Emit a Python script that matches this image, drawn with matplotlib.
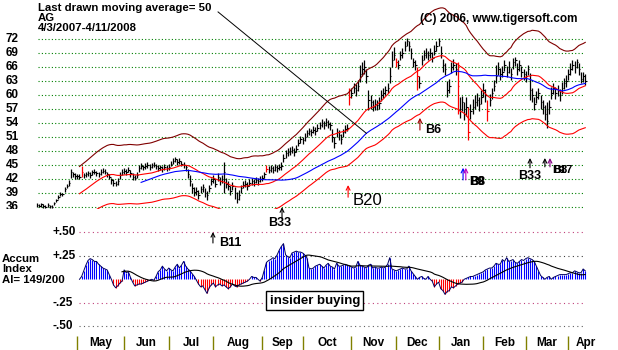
import numpy as np
import pandas as pd
import matplotlib
matplotlib.use('Agg')
import matplotlib.pyplot as plt

plt.rcParams['font.family'] = ['Liberation Sans', 'DejaVu Sans']

# daily bars AG 4/3/2007 - 4/11/2008, one row per month
closes = [
    36.5, 36.3, 36.6, 36.2, 36.0, 36.4, 36.2, 36.1, 36.8, 37.5, 38.2, 38.8, 38.7, 39.8, 40.5, 41.2, 43.5, 43.0, 42.6,
    42.6, 42.4, 43.5, 42.8, 43.0, 43.3, 42.9, 43.4, 43.6, 43.2, 43.0, 43.5, 43.8, 43.6, 43.0, 42.5, 41.8, 41.2, 41.0, 41.5, 42.8, 43.5,
    43.8, 43.5, 44.0, 43.2, 42.5, 42.3, 42.8, 44.3, 44.8, 44.5, 44.8, 45.0, 44.6, 44.9, 45.1, 44.7, 44.3, 44.5, 44.2, 44.6, 44.3,
    44.6, 45.3, 45.8, 46.2, 45.6, 45.9, 45.3, 45.0, 44.5, 43.0, 41.5, 40.0, 39.2, 39.5, 38.6, 39.8, 40.2, 39.0, 38.5, 40.0, 41.5,
    42.0, 41.0, 42.5, 41.5, 42.0, 43.5, 41.0, 40.5, 39.5, 40.5, 39.0, 37.8, 38.5, 40.0, 40.8, 41.0, 40.5, 41.2, 41.5, 41.3, 41.8, 41.5, 42.0,
    42.2, 43.0, 44.2, 44.0, 44.3, 44.0, 44.5, 44.3, 44.6, 44.8, 46.5, 47.5, 47.8, 48.0, 48.3, 47.8, 48.5, 49.8, 50.5,
    50.3, 51.0, 51.8, 52.2, 52.0, 52.6, 52.3, 53.0, 53.5, 54.0, 53.6, 54.2, 53.8, 53.5, 51.0, 49.8, 52.0, 51.5, 50.5, 52.0, 52.8, 53.0, 59.5,
    60.5, 61.5, 61.0, 62.0, 64.5, 65.5, 66.0, 64.0, 59.0, 58.5, 57.5, 58.0, 57.8, 58.3, 60.0, 60.5, 61.0, 61.5, 64.0, 67.5, 68.5,
    67.0, 66.5, 68.5, 69.0, 70.5, 71.5, 70.5, 69.0, 67.0, 66.5, 64.0, 62.5, 67.5, 68.5, 69.0, 68.5, 69.0, 68.0, 69.5, 70.5,
    71.5, 69.0, 66.5, 65.5, 61.0, 62.0, 66.0, 66.5, 65.5, 62.0, 57.0, 58.5, 56.0, 57.5, 52.0, 56.5, 57.5, 58.5, 59.0, 58.0, 59.5,
    61.0, 60.0, 56.5, 59.0, 60.5, 62.0, 64.0, 65.5, 64.5, 65.0, 66.5, 65.0, 66.0, 64.5, 67.0, 67.5, 65.5, 66.5, 65.0, 64.5,
    64.0, 65.5, 61.0, 60.0, 58.0, 59.5, 60.5, 58.5, 57.5, 56.0, 54.5, 57.5, 60.5, 61.5, 60.5, 61.0, 60.0, 61.5, 62.5, 63.0,
    64.5, 65.5, 66.5, 66.0, 67.0, 65.5, 63.5, 64.0, 63.0,
]
highs = [
    36.9, 36.7, 36.9, 36.6, 36.4, 36.8, 36.5, 36.5, 37.1, 37.8, 38.5, 39.2, 39.1, 40.3, 41.0, 41.8, 44.2, 43.6, 43.2,
    43.1, 43.0, 44.7, 43.3, 43.5, 43.8, 43.4, 44.0, 44.2, 43.8, 43.5, 44.2, 44.4, 44.2, 43.6, 43.0, 42.3, 41.9, 41.6, 42.2, 43.4, 44.1,
    44.4, 44.1, 44.6, 43.9, 43.2, 42.9, 43.5, 45.0, 45.5, 45.1, 45.4, 45.6, 45.2, 45.4, 45.7, 45.3, 44.9, 45.1, 44.8, 45.2, 44.9,
    45.2, 45.9, 46.4, 46.8, 46.2, 46.5, 45.9, 45.6, 45.1, 44.2, 42.8, 41.2, 40.2, 40.3, 39.6, 40.6, 41.0, 40.0, 39.4, 40.8, 42.2,
    42.8, 42.0, 43.3, 42.4, 42.8, 45.6, 42.3, 41.6, 40.6, 41.4, 40.2, 39.2, 39.6, 40.8, 41.6, 41.8, 41.3, 42.0, 42.2, 42.0, 42.5, 42.2, 42.7,
    42.9, 43.6, 45.0, 44.7, 45.0, 44.7, 45.2, 45.0, 45.3, 45.6, 47.4, 48.3, 48.6, 48.8, 49.1, 48.6, 49.2, 50.6, 51.2,
    51.0, 51.8, 52.6, 53.0, 52.8, 53.4, 53.1, 53.8, 54.3, 54.9, 54.5, 55.0, 54.6, 54.3, 52.8, 51.0, 53.0, 52.4, 51.6, 52.8, 53.6, 53.8, 61.5,
    61.5, 62.6, 62.3, 63.2, 66.5, 67.0, 67.5, 65.5, 61.0, 60.0, 59.0, 59.2, 59.0, 59.5, 61.0, 61.6, 62.0, 62.6, 66.0, 69.5, 70.3,
    68.0, 67.6, 69.5, 70.0, 71.5, 72.2, 71.5, 70.0, 68.0, 67.4, 66.0, 64.0, 68.6, 69.6, 70.0, 69.5, 70.0, 69.2, 70.8, 71.6,
    72.3, 70.4, 67.8, 66.8, 63.0, 63.5, 67.0, 67.8, 66.8, 67.0, 59.5, 59.8, 58.5, 59.6, 57.5, 58.0, 59.2, 60.0, 60.5, 59.6, 61.0,
    62.6, 61.2, 59.0, 60.2, 61.5, 63.2, 66.5, 67.0, 65.8, 66.2, 67.5, 66.2, 67.2, 65.8, 68.0, 68.2, 66.8, 67.5, 66.2, 65.6,
    65.2, 66.5, 64.7, 61.4, 59.6, 60.8, 61.6, 60.0, 59.0, 57.8, 58.5, 59.0, 61.8, 62.6, 61.8, 62.2, 61.2, 62.8, 63.6, 64.2,
    65.6, 66.8, 67.5, 67.2, 67.8, 66.8, 65.0, 65.0, 64.4,
]
lows = [
    36.0, 35.9, 36.1, 35.8, 35.7, 35.9, 35.8, 35.7, 36.4, 37.1, 37.8, 38.3, 38.3, 39.3, 40.0, 40.6, 42.3, 42.4, 42.0,
    42.0, 41.9, 42.5, 42.2, 42.5, 42.7, 42.3, 42.8, 43.0, 42.6, 42.4, 42.9, 43.2, 43.0, 42.4, 41.9, 41.0, 40.6, 40.4, 40.8, 42.1, 42.9,
    43.1, 42.9, 43.4, 42.5, 41.8, 41.7, 42.2, 43.6, 44.2, 43.9, 44.2, 44.4, 44.0, 44.3, 44.5, 44.1, 43.7, 43.9, 43.6, 44.0, 43.7,
    44.0, 44.7, 45.2, 45.6, 45.0, 45.3, 44.7, 44.4, 43.8, 42.2, 40.6, 39.0, 38.3, 38.6, 37.8, 38.9, 39.3, 38.1, 37.6, 39.2, 40.7,
    41.2, 40.2, 41.6, 40.7, 41.2, 39.0, 40.0, 39.6, 38.6, 39.6, 37.8, 36.8, 37.6, 39.0, 40.0, 40.2, 39.7, 40.4, 40.8, 40.6, 41.1, 40.8, 41.3,
    41.5, 42.3, 43.5, 43.3, 43.6, 43.3, 43.8, 43.6, 43.9, 44.0, 45.6, 46.6, 47.0, 47.2, 47.5, 47.0, 47.7, 49.0, 49.7,
    49.6, 50.2, 51.0, 51.4, 51.2, 51.8, 51.5, 52.2, 52.7, 53.2, 52.8, 53.4, 53.0, 52.6, 50.0, 48.6, 51.0, 50.4, 49.6, 51.0, 51.9, 52.2, 57.8,
    59.4, 60.4, 59.8, 60.8, 62.8, 64.0, 64.5, 62.5, 56.8, 57.0, 56.6, 56.8, 56.7, 57.0, 58.8, 59.4, 60.0, 60.4, 62.5, 66.0, 67.5,
    66.0, 65.6, 67.5, 68.0, 69.5, 70.5, 69.4, 67.8, 66.0, 65.4, 61.0, 61.5, 66.5, 67.5, 68.0, 67.6, 68.0, 67.0, 68.5, 69.5,
    70.5, 68.0, 65.0, 64.2, 59.6, 60.5, 64.8, 65.4, 64.3, 56.0, 55.0, 56.5, 54.6, 55.5, 50.4, 54.8, 56.0, 57.0, 57.6, 56.5, 58.0,
    59.6, 58.6, 54.5, 57.7, 59.2, 60.8, 62.6, 64.2, 63.2, 63.8, 65.2, 63.8, 64.8, 63.2, 65.6, 66.2, 64.2, 65.2, 63.8, 63.2,
    62.8, 64.2, 59.0, 58.6, 56.8, 58.2, 59.2, 57.0, 56.0, 54.6, 53.0, 56.0, 59.2, 60.2, 59.2, 59.8, 58.8, 60.2, 61.2, 61.8,
    63.2, 64.2, 65.4, 64.8, 65.8, 64.2, 62.6, 62.8, 62.2,
]
red_bars = [21, 108, 147, 169, 179, 198, 203, 212]

# accumulation index, starts on day 20
accum_start = 20
accum = [
    0.00, 0.03, 0.09, 0.15, 0.20, 0.22, 0.21, 0.19, 0.19, 0.16,
    0.14, 0.12, 0.11, 0.10, 0.05, 0.00, -0.06, -0.09, -0.07, -0.04,
    -0.02, 0.10, 0.07, 0.08, 0.02, -0.03, -0.07, -0.06, -0.05, -0.05,
    -0.04, -0.03, -0.02, -0.01, 0.00, -0.01, 0.03, 0.08, 0.10, 0.14,
    0.11, 0.09, 0.12, 0.10, 0.09, 0.13, 0.16, 0.12, 0.15, 0.19,
    0.14, 0.11, 0.09, 0.06, 0.03, -0.01, -0.05, -0.08, -0.07, -0.11,
    -0.15, -0.09, -0.06, -0.04, -0.08, -0.06, -0.05, -0.07, -0.06, -0.08,
    -0.10, -0.08, -0.05, -0.07, -0.08, -0.06, -0.05, -0.04, -0.03, -0.02,
    0.00, 0.03, 0.02, 0.02, 0.00, -0.02, 0.02, 0.10, 0.18, 0.20,
    0.21, 0.23, 0.22, 0.26, 0.31, 0.35, 0.38, 0.26, 0.24, 0.23,
    0.28, 0.29, 0.30, 0.29, 0.29, 0.28, 0.26, 0.23, 0.12, 0.11,
    0.12, 0.14, 0.15, 0.16, 0.14, 0.12, 0.15, 0.17, 0.14, 0.13,
    0.11, 0.17, 0.14, 0.14, 0.15, 0.16, 0.15, 0.14, 0.13, 0.12,
    0.13, 0.19, 0.15, 0.14, 0.13, 0.12, 0.15, 0.16, 0.12, 0.13,
    0.12, 0.12, 0.13, 0.12, 0.13, 0.16, 0.23, 0.11, 0.10, 0.09,
    0.10, 0.11, 0.12, 0.11, 0.11, 0.14, 0.09, 0.06, 0.03, 0.00,
    0.02, 0.03, 0.01, 0.00, 0.03, 0.00, -0.02, -0.08, -0.05, -0.03,
    -0.10, -0.12, -0.16, -0.13, -0.12, -0.08, -0.09, -0.07, -0.05, -0.04,
    -0.03, 0.00, 0.01, 0.02, 0.03, 0.03, 0.04, 0.05, 0.06, 0.07,
    0.08, 0.10, 0.11, 0.12, 0.12, 0.14, 0.17, 0.16, 0.16, 0.21,
    0.19, 0.23, 0.19, 0.20, 0.21, 0.18, 0.17, 0.19, 0.21, 0.20,
    0.22, 0.23, 0.22, 0.21, 0.19, 0.14, 0.09, 0.04, 0.02, 0.00,
    0.02, 0.03, 0.00, 0.02, 0.03, 0.04, 0.05, 0.05, 0.05, 0.05,
    0.06, 0.07, 0.07, 0.09, 0.08, 0.07, 0.07, 0.11, 0.09,
]

month_names = ['May', 'Jun', 'Jul', 'Aug', 'Sep', 'Oct', 'Nov', 'Dec', 'Jan', 'Feb', 'Mar', 'Apr']
month_starts = [19, 41, 62, 83, 106, 125, 148, 169, 189, 210, 230, 250]
price_ticks = [72, 69, 66, 63, 60, 57, 54, 51, 48, 45, 42, 39, 36]
ai_ticks = [0.5, 0.25, -0.25, -0.5]
ai_tick_labels = ['+.50', '+.25', '-.25', '-.50']
ai_grid_colors = ['#c0407a', '#404040', '#c0407a', '#606060']

n = len(closes)
days = np.arange(n)
s = pd.Series(closes)
ma21 = s.rolling(21).mean()
ma50 = s.rolling(50).mean()
upper = ma21 * 1.15
lower = ma21 * 0.855

ai_days = np.arange(accum_start, accum_start + len(accum))
ai = np.array(accum)
ai_ma = pd.Series(accum).rolling(21).mean()

fig = plt.figure(figsize=(6.18, 3.5), dpi=100)
fig.patch.set_facecolor('white')

xlim = (-37 / 2.125, (618 - 37) / 2.125)

# price panel
ax1 = fig.add_axes([0, 138 / 350, 1, 212 / 350])
ax1.set_xlim(*xlim)
ax1.set_ylim(72 - 173 / 4.667, 72 + 39 / 4.667)
ax1.axis('off')

ax1.hlines(price_ticks, 0.5, 257, colors='#008000', linestyles=(0, (1, 2)), lw=0.8)
for p in price_ticks:
    ax1.text(-14.6, p, str(p), fontsize=8.5, fontweight='bold', va='center', ha='left')

colors = ['red' if i in red_bars else 'black' for i in days]
ax1.vlines(days, lows, highs, colors=colors, lw=0.9)
ax1.hlines(closes, days, days + 0.7, colors=colors, lw=0.8)

ax1.plot(days, upper, color='#800000', lw=0.8)
ax1.plot(days, lower, color='#ff0000', lw=0.8)
ax1.plot(days, ma21, color='#ff0000', lw=0.8)
ax1.plot(days, ma50, color='#0000ff', lw=0.8)

ax1.text(0.5, 78.6, 'Last drawn moving average= 50', fontsize=8.2, fontweight='bold', va='center')
ax1.text(0.5, 76.45, 'AG', fontsize=8.2, fontweight='bold', va='center')
ax1.text(0.5, 74.3, '4/3/2007-4/11/2008', fontsize=8.2, fontweight='bold', va='center')
ax1.text(180.2, 76.3, '(C) 2006, www.tigersoft.com', fontsize=8.5, fontweight='bold', va='center')
ax1.plot([85.2, 155], [77.8, ma50[155]], color='black', lw=0.7)


def arrow(ax, x, y0, y1, color):
    ax.annotate('', xy=(x, y1), xytext=(x, y0), annotation_clip=False,
                arrowprops=dict(arrowstyle='->', color=color, lw=0.8,
                                shrinkA=0, shrinkB=0, mutation_scale=7))


arrow(ax1, 146.4, 38.1, 40.7, 'red')
ax1.text(148.5, 37.4, 'B20', fontsize=12, va='center')
arrow(ax1, 180.2, 52.5, 55.1, '#a00000')
ax1.text(182.5, 52.5, 'B6', fontsize=9, fontweight='bold', va='center')
arrow(ax1, 200.5, 41.8, 44.4, 'blue')
arrow(ax1, 201.8, 41.8, 44.4, '#c000c0')
ax1.text(203.4, 41.3, 'B9', fontsize=8.5, fontweight='bold', va='center')
ax1.text(204.0, 41.3, 'B8', fontsize=8.5, fontweight='bold', va='center')
arrow(ax1, 232.0, 44.4, 46.5, 'black')
ax1.text(232.0, 42.6, 'B33', fontsize=9, fontweight='bold', va='center', ha='center')
arrow(ax1, 239.0, 44.6, 46.5, 'black')
arrow(ax1, 241.4, 44.6, 46.5, '#800080')
ax1.text(242.4, 43.9, 'B17', fontsize=8, fontweight='bold', va='center')
ax1.text(243.0, 43.9, 'B8', fontsize=8, fontweight='bold', va='center')

# accumulation panel
ax2 = fig.add_axes([0, 0, 1, 141 / 350])
ax2.set_zorder(2)
ax2.patch.set_facecolor('white')
ax2.set_xlim(*xlim)
ax2.set_ylim((279.3 - 350) / 94, (279.3 - 209) / 94)
ax2.set_xticks([])
ax2.set_yticks([])
for sp in ax2.spines.values():
    sp.set_visible(False)

for v, lab, c in zip(ai_ticks, ai_tick_labels, ai_grid_colors):
    ax2.hlines(v, 20, 257, colors=c, linestyles=(0, (1, 3)), lw=0.8)
    ax2.text(7.5, v, lab, fontsize=8.5, fontweight='bold', va='center', ha='left')

ai_cols = np.where(ai >= 0, '#0000ff', '#ff0000')
ax2.vlines(ai_days, 0, ai, colors=ai_cols, lw=0.8)
ax2.plot(ai_days, ai, color='#000060', lw=0.7)
ax2.plot(ai_days, ai_ma, color='black', lw=0.8)

ax2.text(-16.5, 0.22, 'Accum', fontsize=8.2, fontweight='bold', va='center')
ax2.text(-16.5, 0.108, 'Index', fontsize=8.2, fontweight='bold', va='center')
ax2.text(-16.5, -0.005, 'AI= 149/200', fontsize=8.2, fontweight='bold', va='center')

ax2.text(130.8, -0.226, 'insider buying', fontsize=9.5, fontweight='bold', va='center', ha='center',
         bbox=dict(boxstyle='square,pad=0.25', facecolor='white', edgecolor='black', lw=1))

arrow(ax2, 82.8, 0.386, 0.503, 'black')
ax2.text(85.5, 0.386, 'B11', fontsize=9, fontweight='bold', va='center')
arrow(ax2, 115.3, 0.652, 0.767, 'black')
ax2.text(114.0, 0.599, 'B33', fontsize=9, fontweight='bold', va='center', ha='center')

ax2.vlines(month_starts, -0.752, (279.3 - 336) / 94, colors='#808000', lw=1)
ends = month_starts[1:] + [month_starts[-1] + 17]
for name, a, b in zip(month_names, month_starts, ends):
    ax2.text((a + b) / 2, -0.68, name, fontsize=8.5, fontweight='bold', va='center', ha='center')

fig.savefig('out.png', dpi=100)
